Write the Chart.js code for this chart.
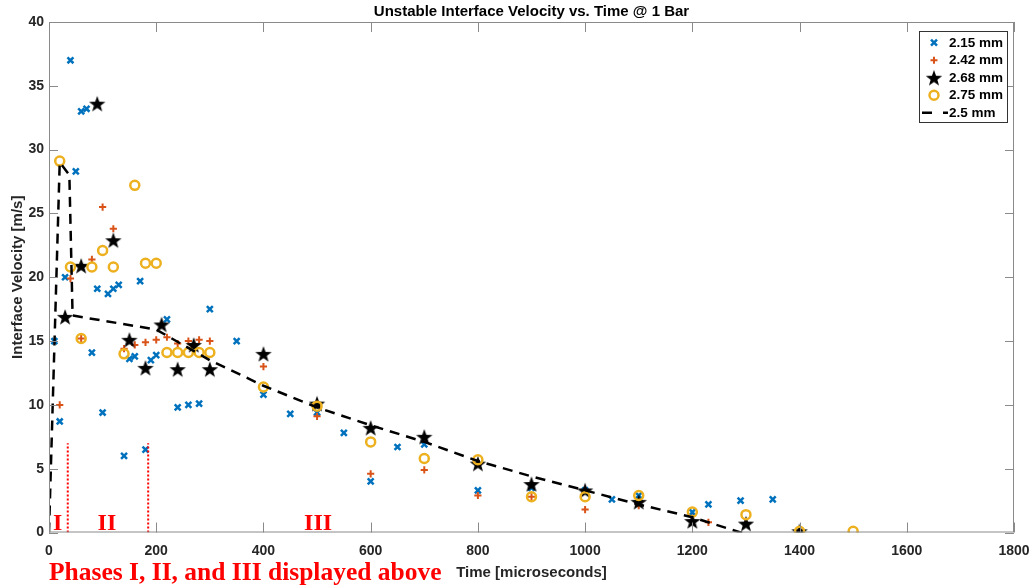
<!DOCTYPE html>
<html>
<head>
<meta charset="utf-8">
<title>Unstable Interface Velocity vs. Time @ 1 Bar</title>
<script src="https://cdn.jsdelivr.net/npm/chart.js@4.4.1/dist/chart.umd.min.js"></script>
<style>
  body { margin: 0; background: #fff; }
  #wrap { width: 1033px; height: 588px; }
</style>
</head>
<body>
<div id="wrap"><canvas id="myChart" width="1033" height="588"></canvas></div>
<script>
// datos (tiempo en microsegundos, velocidad en m/s)
const timeBlue = [10,20,30,40,50,60,70,80,90,100,110,120,130,140,150,160,170,180,190,200,
  220,240,260,280,300,350,400,450,500,550,600,650,700,800,900,1000,1050,1100,1200,1230,1290,1350];
const velBlue = [15.0,8.7,20.0,37.0,28.3,33.0,33.2,14.1,19.1,9.4,18.7,19.1,19.4,6.0,13.6,13.8,19.7,6.5,13.5,13.9,
  16.7,9.8,10.0,10.1,17.5,15.0,10.8,9.3,9.4,7.8,4.0,6.7,6.9,3.3,3.5,3.3,2.6,2.9,1.6,2.2,2.5,2.6];

const timeOrange = [20,40,60,80,100,120,140,160,180,200,220,240,260,280,300,400,500,600,700,800,900,1000,1100,1230];
const velOrange = [10.0,19.9,15.2,21.4,25.5,23.8,14.4,14.7,14.9,15.1,15.3,14.8,15.0,15.1,15.0,13.0,9.1,4.6,4.9,2.9,2.8,1.8,2.1,0.8];

const timeStar = [30,60,90,120,150,180,210,240,270,300,400,500,600,700,800,900,1000,1100,1200,1300,1400];
const velStar = [16.9,20.9,33.6,22.9,15.1,12.9,16.3,12.8,14.7,12.8,14.0,10.1,8.2,7.5,5.4,3.8,3.3,2.4,0.9,0.7,0.1];

const timeCircle = [20,40,60,80,100,120,140,160,180,200,220,240,260,280,300,400,500,600,700,800,900,1000,1100,1200,1300,1400,1500];
const velCircle = [29.1,20.8,15.2,20.8,22.1,20.8,14.0,27.2,21.1,21.1,14.1,14.1,14.1,14.1,14.1,11.4,9.9,7.1,5.8,5.7,2.8,2.8,2.9,1.6,1.4,0.1,0.1];

const timeFit = [0,20,38,44,200,300,400,500,600,700,800,900,1000,1100,1200,1290,1300];
const velFit = [0,29,28,17,15.9,13.5,11.5,9.8,8.4,7.1,5.6,4.4,3.3,2.2,1.2,0,0];

const seriesLabels = ['2.15 mm','2.42 mm','2.68 mm','2.75 mm','2.5 mm'];
const xTicks = [0,200,400,600,800,1000,1200,1400,1600,1800];
const yTicks = [0,5,10,15,20,25,30,35,40];

// fases
const phaseLineX = [35, 185];
const phaseLineTop = 7;
const phaseNames = ['I','II','III'];
const phaseNameX = [16, 108, 502];

const titleText = 'Unstable Interface Velocity vs. Time @ 1 Bar';
const xTitle = 'Time [microseconds]';
const yTitle = 'Interface Velocity [m/s]';
const noteText = 'Phases I, II, and III displayed above';

const BLUE = '#0072BD', ORANGE = '#D95319', YELLOW = '#EDB120', RED = '#FF0000';
const SANS = '"Liberation Sans", Arial, sans-serif';
const SERIF = '"Liberation Serif", "Times New Roman", serif';

function pares(xs, ys){
  var out = [];
  for (var i = 0; i < xs.length; i++) out.push({x: xs[i], y: ys[i]});
  return out;
}

// estrella rellena (pentagrama)
const starImg = (function(){
  var c = document.createElement('canvas');
  c.width = 18; c.height = 18;
  var g = c.getContext('2d');
  g.beginPath();
  for (var i = 0; i < 10; i++) {
    var r = i % 2 === 0 ? 8.6 : 3.5;
    var a = -Math.PI/2 + i*Math.PI/5;
    var px = 9 + r*Math.cos(a), py = 9.8 + r*Math.sin(a);
    if (i === 0) g.moveTo(px, py); else g.lineTo(px, py);
  }
  g.closePath();
  g.fillStyle = '#000';
  g.fill();
  return c;
})();

function marca(ctx, kind, x, y){
  ctx.save();
  if (kind === 'x') {
    ctx.strokeStyle = BLUE; ctx.lineWidth = 2.5;
    ctx.beginPath();
    ctx.moveTo(x-3, y-3); ctx.lineTo(x+3, y+3);
    ctx.moveTo(x-3, y+3); ctx.lineTo(x+3, y-3);
    ctx.stroke();
  } else if (kind === '+') {
    ctx.strokeStyle = ORANGE; ctx.lineWidth = 2;
    ctx.beginPath();
    ctx.moveTo(x-3.5, y); ctx.lineTo(x+3.5, y);
    ctx.moveTo(x, y-3.5); ctx.lineTo(x, y+3.5);
    ctx.stroke();
  } else if (kind === 'star') {
    ctx.drawImage(starImg, x-9, y-9);
  } else if (kind === 'o') {
    ctx.strokeStyle = YELLOW; ctx.lineWidth = 2.5;
    ctx.beginPath(); ctx.arc(x, y, 4.5, 0, Math.PI*2); ctx.stroke();
  } else if (kind === 'dash') {
    ctx.strokeStyle = '#000'; ctx.lineWidth = 2.5;
    ctx.setLineDash([10, 11]);
    ctx.beginPath(); ctx.moveTo(x-12, y); ctx.lineTo(x+14, y); ctx.stroke();
  }
  ctx.restore();
}

const extras = {
  id: 'extras',
  afterDraw: function(chart){
    var ctx = chart.ctx, a = chart.chartArea;
    var sx = chart.scales.x, sy = chart.scales.y;
    ctx.save();

    // caja y marcas hacia adentro
    ctx.strokeStyle = '#8a8a8a';
    ctx.lineWidth = 1;
    ctx.strokeRect(a.left + 0.5, a.top + 0.5, a.right - a.left - 1, a.bottom - a.top - 1);
    ctx.beginPath();
    xTicks.forEach(function(t){
      var px = Math.round(sx.getPixelForValue(t)) + 0.5;
      ctx.moveTo(px, a.bottom); ctx.lineTo(px, a.bottom - 10);
      ctx.moveTo(px, a.top); ctx.lineTo(px, a.top + 10);
    });
    yTicks.forEach(function(t){
      var py = Math.round(sy.getPixelForValue(t)) + 0.5;
      ctx.moveTo(a.left, py); ctx.lineTo(a.left + 9, py);
      ctx.moveTo(a.right, py); ctx.lineTo(a.right - 9, py);
    });
    ctx.stroke();

    // titulos
    ctx.fillStyle = '#000';
    ctx.textAlign = 'center';
    ctx.textBaseline = 'middle';
    ctx.font = 'bold 15px ' + SANS;
    ctx.fillText(titleText, (a.left + a.right)/2, 12);
    ctx.fillStyle = '#262626';
    ctx.fillText(xTitle, (a.left + a.right)/2, 573);
    ctx.save();
    ctx.translate(18, (a.top + a.bottom)/2);
    ctx.rotate(-Math.PI/2);
    ctx.fillText(yTitle, 0, 0);
    ctx.restore();

    // fases
    ctx.fillStyle = RED;
    ctx.textBaseline = 'alphabetic';
    ctx.font = 'bold 24px ' + SERIF;
    phaseNames.forEach(function(n, i){
      ctx.fillText(n, sx.getPixelForValue(phaseNameX[i]), a.bottom - 3);
    });
    ctx.textAlign = 'left';
    ctx.font = 'bold 25.5px ' + SERIF;
    ctx.fillText(noteText, 49, 580);

    // leyenda
    var lx = 919.5, ly = 31.5, lw = 88, lh = 91;
    ctx.fillStyle = '#fff';
    ctx.fillRect(lx, ly, lw, lh);
    ctx.strokeStyle = '#333';
    ctx.strokeRect(lx, ly, lw, lh);
    var kinds = ['x', '+', 'star', 'o', 'dash'];
    ctx.font = 'bold 13.5px ' + SANS;
    ctx.textBaseline = 'middle';
    ctx.textAlign = 'left';
    kinds.forEach(function(k, i){
      var yy = 42.7 + i*17.5;
      marca(ctx, k, 934, yy);
      ctx.fillStyle = '#000';
      ctx.fillText(seriesLabels[i], 949, yy + 0.5);
    });
    ctx.restore();
  }
};

const ctx = document.getElementById('myChart');
new Chart(ctx, {
  type: 'scatter',
  data: {
    datasets: [{
      label: seriesLabels[0],
      data: pares(timeBlue, velBlue),
      pointStyle: 'crossRot',
      pointRadius: 4.2,
      borderWidth: 2.5,
      borderColor: BLUE,
      backgroundColor: BLUE,
      order: 6
    }, {
      label: seriesLabels[1],
      data: pares(timeOrange, velOrange),
      pointStyle: 'cross',
      pointRadius: 3.6,
      borderWidth: 2,
      borderColor: ORANGE,
      backgroundColor: ORANGE,
      order: 5
    }, {
      label: seriesLabels[2],
      data: pares(timeStar, velStar),
      pointStyle: starImg,
      pointRadius: 8,
      order: 4
    }, {
      label: seriesLabels[3],
      data: pares(timeCircle, velCircle),
      pointStyle: 'circle',
      pointRadius: 4.5,
      borderWidth: 2.5,
      borderColor: YELLOW,
      backgroundColor: 'rgba(0,0,0,0)',
      order: 3
    }, {
      label: seriesLabels[4],
      data: pares(timeFit, velFit),
      showLine: true,
      pointRadius: 0,
      borderColor: '#000',
      borderWidth: 2.5,
      borderDash: [10, 7],
      fill: false,
      order: 2
    }, {
      label: 'fase1',
      data: [{x: phaseLineX[0], y: 0}, {x: phaseLineX[0], y: phaseLineTop}],
      showLine: true,
      pointRadius: 0,
      borderColor: RED,
      borderWidth: 2,
      borderDash: [2, 2],
      order: 1
    }, {
      label: 'fase2',
      data: [{x: phaseLineX[1], y: 0}, {x: phaseLineX[1], y: phaseLineTop}],
      showLine: true,
      pointRadius: 0,
      borderColor: RED,
      borderWidth: 2,
      borderDash: [2, 2],
      order: 1
    }]
  },
  options: {
    responsive: false,
    animation: false,
    devicePixelRatio: 1,
    layout: { padding: { left: 0, right: 19, top: 22, bottom: 0 } },
    plugins: {
      legend: { display: false },
      tooltip: { enabled: false },
      title: { display: false }
    },
    scales: {
      x: {
        type: 'linear',
        min: 0, max: 1800,
        grid: { display: false, drawTicks: false, tickLength: 0 },
        border: { display: false },
        ticks: {
          stepSize: 200,
          padding: 10,
          color: '#262626',
          font: { family: SANS, size: 14, weight: 'bold' },
          callback: function(v){ return String(v); }
        },
        afterFit: function(s){ s.height = 55.5; s.paddingRight = 0; s.paddingLeft = 0; }
      },
      y: {
        min: 0, max: 40,
        grid: { display: false, drawTicks: false, tickLength: 0 },
        border: { display: false },
        ticks: {
          stepSize: 5,
          padding: 5,
          color: '#262626',
          font: { family: SANS, size: 14, weight: 'bold' },
          callback: function(v){ return String(v); }
        },
        afterFit: function(s){ s.width = 49; s.paddingTop = 0; s.paddingBottom = 0; }
      }
    }
  },
  plugins: [extras]
});
</script>
</body>
</html>
